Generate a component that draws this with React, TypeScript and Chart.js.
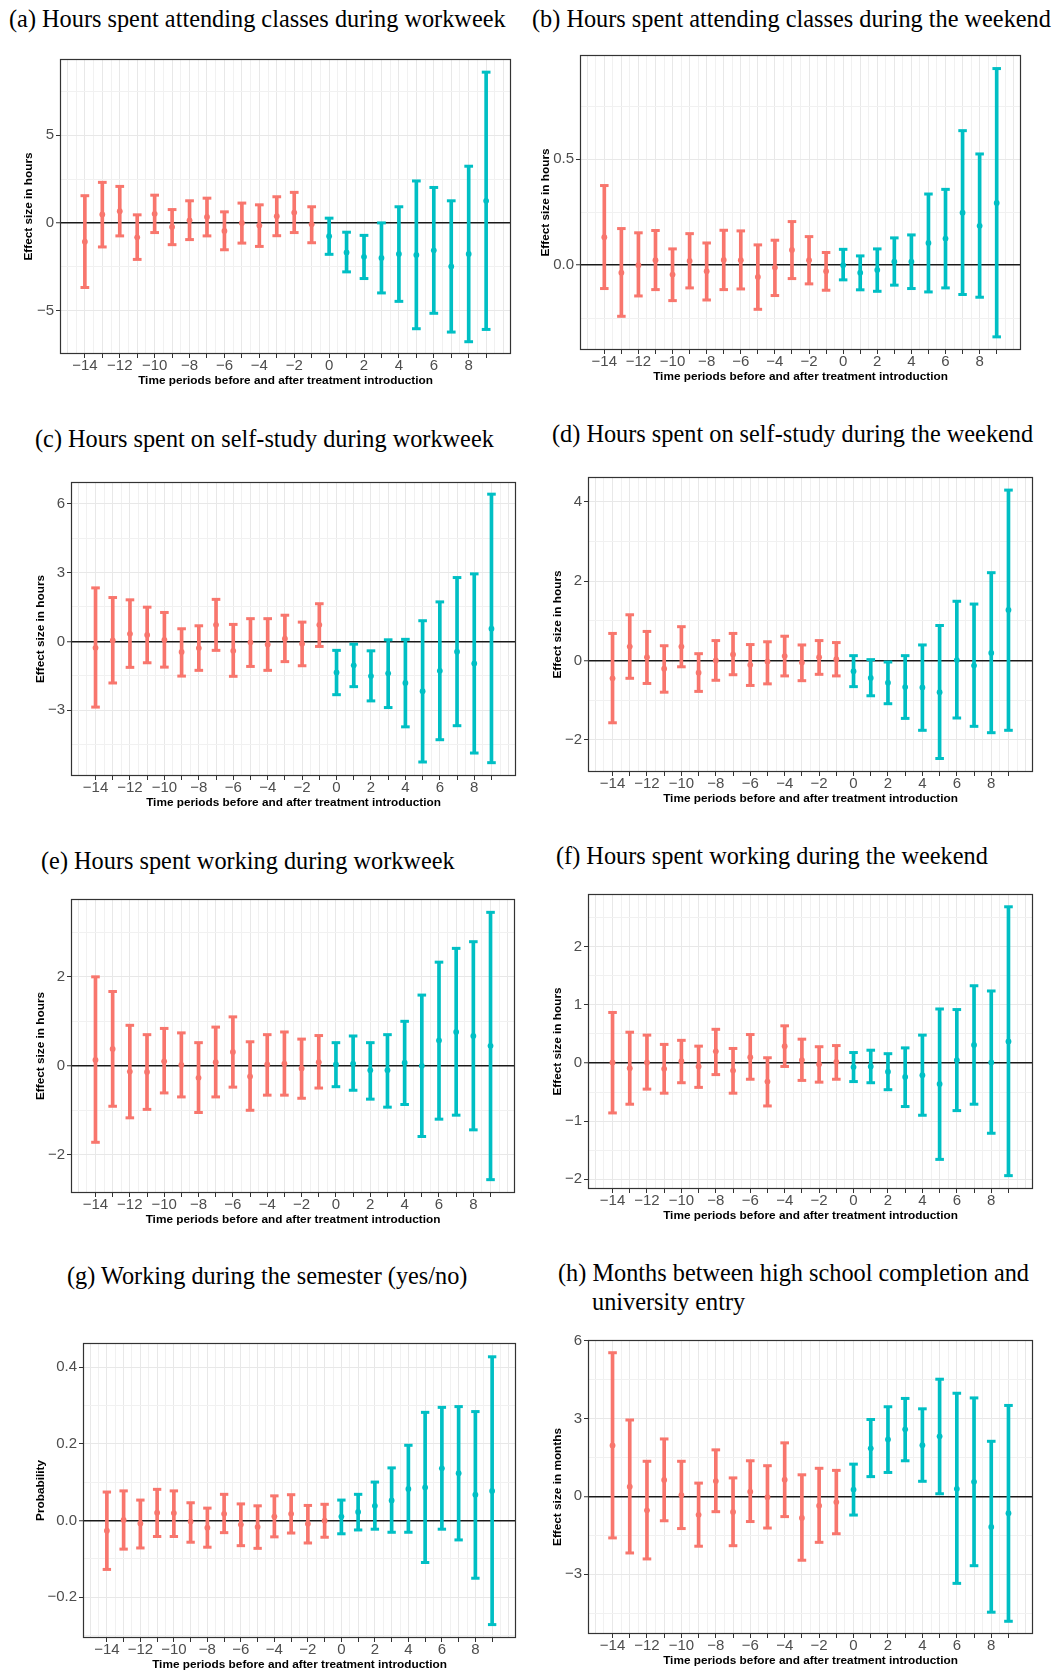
import React, { useEffect, useRef } from "react";
import { Chart, registerables } from "chart.js";

Chart.register(...registerables);

// ---------- data ----------
const periods = [-14, -13, -12, -11, -10, -9, -8, -7, -6, -5, -4, -3, -2, -1, 0, 1, 2, 3, 4, 5, 6, 7, 8, 9];
const xTickLabels = [-14, -12, -10, -8, -6, -4, -2, 0, 2, 4, 6, 8];

// (a) Hours spent attending classes during workweek
const aEst = [-1.07, 0.48, 0.67, -0.82, 0.52, -0.23, 0.15, 0.34, -0.46, 0.0, -0.15, 0.38, 0.59, -0.08, -0.76, -1.68, -1.93, -2.0, -1.77, -1.83, -1.56, -2.48, -1.77, 1.26];
const aLow = [-3.68, -1.37, -0.74, -2.08, -0.55, -1.24, -0.95, -0.74, -1.53, -1.15, -1.34, -0.73, -0.55, -1.13, -1.79, -2.79, -3.17, -3.99, -4.47, -6.03, -5.15, -6.22, -6.77, -6.07];
const aHigh = [1.55, 2.31, 2.08, 0.46, 1.58, 0.76, 1.26, 1.41, 0.63, 1.13, 1.03, 1.49, 1.74, 0.92, 0.27, -0.53, -0.71, 0.0, 0.92, 2.39, 2.02, 1.26, 3.23, 8.59];
const aYTicks = [-5, 0, 5];

// (b) Hours spent attending classes during the weekend
const bEst = [0.132, -0.035, 0.0, 0.024, -0.044, 0.02, -0.028, 0.025, 0.024, -0.055, -0.011, 0.072, 0.024, -0.028, 0.0, -0.035, -0.022, 0.017, 0.017, 0.105, 0.126, 0.248, 0.186, 0.294];
const bLow = [-0.11, -0.241, -0.145, -0.115, -0.167, -0.107, -0.164, -0.115, -0.112, -0.208, -0.143, -0.063, -0.088, -0.118, -0.069, -0.116, -0.123, -0.094, -0.11, -0.126, -0.107, -0.138, -0.151, -0.338];
const bHigh = [0.376, 0.173, 0.153, 0.164, 0.077, 0.149, 0.105, 0.165, 0.162, 0.096, 0.118, 0.206, 0.135, 0.06, 0.075, 0.044, 0.077, 0.129, 0.143, 0.336, 0.358, 0.635, 0.525, 0.928];
const bYTicks = [0.0, 0.5];

// (c) Hours spent on self-study during workweek
const cEst = [-0.28, 0.04, 0.33, 0.28, 0.07, -0.46, -0.29, 0.72, -0.41, -0.04, -0.13, 0.12, -0.1, 0.72, -1.35, -1.04, -1.51, -1.39, -1.81, -2.17, -1.28, -0.45, -0.96, 0.55];
const cLow = [-2.86, -1.81, -1.13, -0.93, -1.12, -1.51, -1.26, -0.39, -1.52, -1.09, -1.26, -0.88, -1.06, -0.22, -2.32, -1.97, -2.59, -2.88, -3.72, -5.25, -4.28, -3.67, -4.86, -5.28];
const cHigh = [2.33, 1.91, 1.81, 1.49, 1.26, 0.55, 0.68, 1.83, 0.74, 0.99, 0.99, 1.14, 0.84, 1.64, -0.39, -0.12, -0.41, 0.07, 0.09, 0.9, 1.72, 2.78, 2.94, 6.41];
const cYTicks = [-3, 0, 3, 6];

// (d) Hours spent on self-study during the weekend
const dEst = [-0.45, 0.35, 0.08, -0.21, 0.35, -0.31, 0.0, 0.15, -0.11, -0.03, 0.11, -0.05, 0.08, 0.03, -0.27, -0.44, -0.56, -0.67, -0.68, -0.8, 0.01, -0.13, 0.19, 1.27];
const dLow = [-1.57, -0.45, -0.58, -0.8, -0.16, -0.78, -0.5, -0.36, -0.63, -0.59, -0.39, -0.51, -0.35, -0.39, -0.66, -0.89, -1.09, -1.46, -1.76, -2.47, -1.45, -1.66, -1.82, -1.76];
const dHigh = [0.68, 1.15, 0.73, 0.37, 0.85, 0.17, 0.5, 0.68, 0.4, 0.47, 0.61, 0.39, 0.5, 0.45, 0.12, 0.02, -0.04, 0.12, 0.39, 0.88, 1.49, 1.42, 2.21, 4.29];
const dYTicks = [-2, 0, 2, 4];

// (e) Hours spent working during workweek
const eEst = [0.13, 0.38, -0.13, -0.14, 0.1, 0.02, -0.27, 0.08, 0.31, -0.24, 0.03, 0.05, -0.06, 0.08, 0.03, 0.05, -0.1, -0.1, 0.07, 0.0, 0.57, 0.76, 0.67, 0.45];
const eLow = [-1.72, -0.91, -1.17, -0.98, -0.61, -0.7, -1.05, -0.7, -0.48, -1.0, -0.66, -0.66, -0.73, -0.5, -0.47, -0.55, -0.75, -0.93, -0.87, -1.59, -1.2, -1.11, -1.44, -2.56];
const eHigh = [2.0, 1.67, 0.91, 0.7, 0.84, 0.74, 0.52, 0.87, 1.1, 0.54, 0.7, 0.76, 0.6, 0.68, 0.52, 0.67, 0.52, 0.7, 1.0, 1.59, 2.33, 2.64, 2.79, 3.45];
const eYTicks = [-2, 0, 2];

// (f) Hours spent working during the weekend
const fEst = [0.01, -0.09, 0.01, -0.1, 0.03, -0.06, 0.2, -0.13, 0.1, -0.32, 0.29, 0.05, -0.02, 0.02, -0.07, -0.06, -0.15, -0.24, -0.21, -0.36, 0.05, 0.31, 0.01, 0.37];
const fLow = [-0.86, -0.71, -0.45, -0.52, -0.34, -0.42, -0.2, -0.52, -0.28, -0.74, -0.06, -0.3, -0.33, -0.28, -0.32, -0.34, -0.46, -0.75, -0.9, -1.66, -0.82, -0.71, -1.21, -1.94];
const fHigh = [0.87, 0.53, 0.48, 0.32, 0.39, 0.29, 0.58, 0.25, 0.49, 0.09, 0.64, 0.41, 0.28, 0.3, 0.18, 0.22, 0.16, 0.26, 0.48, 0.93, 0.92, 1.33, 1.24, 2.69];
const fYTicks = [-2, -1, 0, 1, 2];

// (g) Working during the semester (yes/no)
const gEst = [-0.027, 0.001, -0.008, 0.02, 0.019, -0.003, -0.019, 0.017, -0.011, -0.017, 0.01, 0.017, -0.009, -0.001, 0.01, 0.022, 0.038, 0.052, 0.082, 0.086, 0.136, 0.123, 0.067, 0.077];
const gLow = [-0.128, -0.075, -0.072, -0.042, -0.042, -0.057, -0.07, -0.032, -0.066, -0.073, -0.043, -0.033, -0.059, -0.044, -0.035, -0.025, -0.023, -0.031, -0.031, -0.11, -0.023, -0.051, -0.151, -0.272];
const gHigh = [0.074, 0.077, 0.053, 0.081, 0.077, 0.046, 0.032, 0.068, 0.043, 0.038, 0.064, 0.067, 0.039, 0.042, 0.053, 0.068, 0.1, 0.137, 0.196, 0.282, 0.295, 0.297, 0.284, 0.427];
const gYTicks = [-0.2, 0.0, 0.2, 0.4];

// (h) Months between high school completion and university entry
const hEst = [1.96, 0.37, -0.54, 0.63, 0.05, -0.71, 0.59, -0.6, 0.18, -0.03, 0.64, -0.83, -0.36, -0.22, 0.26, 1.85, 2.19, 2.58, 1.97, 2.31, 0.29, 0.56, -1.18, -0.65];
const hLow = [-1.6, -2.18, -2.41, -0.94, -1.24, -1.92, -0.59, -1.9, -0.97, -1.22, -0.78, -2.46, -1.77, -1.44, -0.72, 0.76, 0.92, 1.37, 0.58, 0.1, -3.35, -2.67, -4.46, -4.81];
const hHigh = [5.53, 2.94, 1.35, 2.21, 1.35, 0.51, 1.79, 0.71, 1.37, 1.18, 2.06, 0.83, 1.08, 1.0, 1.24, 2.96, 3.45, 3.77, 3.37, 4.51, 3.97, 3.79, 2.12, 3.5];
const hYTicks = [-3, 0, 3, 6];

const X_TITLE = "Time periods before and after treatment introduction";

// ---------- styling ----------
const PRE = "#F8766D";
const POST = "#00BFC4";
const SANS = '"Liberation Sans", Arial, Helvetica, sans-serif';
const SERIF = '"Liberation Serif", "Times New Roman", serif';

type PanelCfg = {
  id: string;
  titles: { text: string; x: number; base: number }[];
  box: { l: number; t: number; r: number; b: number };
  yMin: number;
  yMax: number;
  yTicks: number[];
  dec: number;
  yTitle: string;
  yTitleOff: number;
  est: number[];
  low: number[];
  high: number[];
};

const panels: PanelCfg[] = [
  { id: "a", titles: [{ text: "(a) Hours spent attending classes during workweek", x: 9, base: 27 }],
    box: { l: 60, t: 59, r: 511, b: 354 }, yMin: -7.47, yMax: 9.34, yTicks: aYTicks, dec: 0,
    yTitle: "Effect size in hours", yTitleOff: 31, est: aEst, low: aLow, high: aHigh },
  { id: "b", titles: [{ text: "(b) Hours spent attending classes during the weekend", x: 532, base: 27 }],
    box: { l: 580, t: 55, r: 1021, b: 350 }, yMin: -0.4, yMax: 0.992, yTicks: bYTicks, dec: 1,
    yTitle: "Effect size in hours", yTitleOff: 34, est: bEst, low: bLow, high: bHigh },
  { id: "c", titles: [{ text: "(c) Hours spent on self-study during workweek", x: 35, base: 447 }],
    box: { l: 71, t: 482, r: 516, b: 776 }, yMin: -5.86, yMax: 6.94, yTicks: cYTicks, dec: 0,
    yTitle: "Effect size in hours", yTitleOff: 30, est: cEst, low: cLow, high: cHigh },
  { id: "d", titles: [{ text: "(d) Hours spent on self-study during the weekend", x: 552, base: 442 }],
    box: { l: 588, t: 477, r: 1033, b: 772 }, yMin: -2.81, yMax: 4.62, yTicks: dYTicks, dec: 0,
    yTitle: "Effect size in hours", yTitleOff: 30, est: dEst, low: dLow, high: dHigh },
  { id: "e", titles: [{ text: "(e) Hours spent working during workweek", x: 41, base: 869 }],
    box: { l: 71, t: 899, r: 515, b: 1193 }, yMin: -2.86, yMax: 3.75, yTicks: eYTicks, dec: 0,
    yTitle: "Effect size in hours", yTitleOff: 30, est: eEst, low: eLow, high: eHigh },
  { id: "f", titles: [{ text: "(f) Hours spent working during the weekend", x: 556, base: 864 }],
    box: { l: 588, t: 894, r: 1033, b: 1189 }, yMin: -2.17, yMax: 2.91, yTicks: fYTicks, dec: 0,
    yTitle: "Effect size in hours", yTitleOff: 30, est: fEst, low: fLow, high: fHigh },
  { id: "g", titles: [{ text: "(g) Working during the semester (yes/no)", x: 67, base: 1284 }],
    box: { l: 83, t: 1343, r: 516, b: 1638 }, yMin: -0.307, yMax: 0.463, yTicks: gYTicks, dec: 1,
    yTitle: "Probability", yTitleOff: 42, est: gEst, low: gLow, high: gHigh },
  { id: "h", titles: [
      { text: "(h) Months between high school completion and", x: 558, base: 1281 },
      { text: "university entry", x: 592, base: 1310 },
    ],
    box: { l: 588, t: 1340, r: 1033, b: 1634 }, yMin: -5.3, yMax: 6.02, yTicks: hYTicks, dec: 0,
    yTitle: "Effect size in months", yTitleOff: 30, est: hEst, low: hLow, high: hHigh },
];

const X_MIN = -15.425;
const X_MAX = 10.425;
const Y_AXIS_W = 60;
const X_AXIS_H = 34;
const PAD_T = 10;
const PAD_R = 8;
const TICK_FONT = 15;
const TITLE_FONT = 11.8;

const fmt = (v: number, dec: number) => {
  const s = Math.abs(v) < 1e-9 ? (0).toFixed(dec) : v.toFixed(dec);
  return s.replace("-", "\u2212");
};
const near = (a: number, b: number) => Math.abs(a - b) < 1e-9;
const inList = (v: number, list: number[]) => list.some((t) => near(t, v));

const borderPlugin = {
  id: "panelBorder",
  afterDatasetsDraw(chart: any) {
    const { ctx, chartArea } = chart;
    const { left, top, right, bottom } = chartArea;
    ctx.save();
    ctx.strokeStyle = "#333333";
    ctx.lineWidth = 1.2;
    ctx.strokeRect(left + 0.5, top + 0.5, right - left - 1, bottom - top - 1);
    ctx.restore();
  },
};

function ErrorPanel({ cfg }: { cfg: PanelCfg }) {
  const ref = useRef<HTMLCanvasElement | null>(null);
  const { l, t, r, b } = cfg.box;
  const width = r - l + Y_AXIS_W + PAD_R;
  const height = b - t + PAD_T + X_AXIS_H;

  useEffect(() => {
    const canvas = ref.current;
    if (!canvas) return;
    const colorOf = (p: number) => (p < 0 ? PRE : POST);

    const bars = periods.map((p, i) => ({ x: p, y: [cfg.low[i], cfg.high[i]] }));
    const caps = periods.flatMap((p, i) => [
      { x: p, y: cfg.low[i] },
      { x: p, y: cfg.high[i] },
    ]);
    const capColors = periods.flatMap((p) => [colorOf(p), colorOf(p)]);
    const pts = periods.map((p, i) => ({ x: p, y: cfg.est[i] }));
    const ptColors = periods.map(colorOf);

    // grid positions: integer (major) and half-integer (minor) lines on x
    const xGrid: number[] = [];
    for (let k = Math.ceil(X_MIN * 2); k <= Math.floor(X_MAX * 2); k++) xGrid.push(k / 2);
    // y grid: labelled breaks plus midpoints
    const step = cfg.yTicks[1] - cfg.yTicks[0];
    const yGridAll: number[] = [];
    const first = cfg.yTicks[0] - 4 * step;
    for (let k = 0; k <= (cfg.yTicks.length + 8) * 2; k++) {
      const v = Math.round((first + (k * step) / 2) * 1e6) / 1e6;
      if (v >= cfg.yMin - 1e-9 && v <= cfg.yMax + 1e-9) yGridAll.push(v);
    }

    const chart = new Chart(canvas, {
      type: "scatter",
      data: {
        datasets: [
          {
            type: "scatter",
            data: pts,
            pointRadius: 2.9,
            pointHoverRadius: 2.9,
            pointBackgroundColor: ptColors,
            pointBorderColor: ptColors,
            pointBorderWidth: 0,
          } as any,
          {
            type: "scatter",
            data: caps,
            pointStyle: "line",
            pointRadius: (ctx: any) => {
              const s = ctx.chart.scales.x;
              return Math.abs(s.getPixelForValue(0.25) - s.getPixelForValue(0));
            },
            pointBorderColor: capColors,
            pointBackgroundColor: capColors,
            pointBorderWidth: 3,
          } as any,
          {
            type: "bar",
            data: bars,
            backgroundColor: ptColors,
            borderWidth: 0,
            barThickness: 3,
            grouped: false,
          } as any,
        ],
      },
      options: {
        animation: false,
        responsive: false,
        maintainAspectRatio: false,
        devicePixelRatio: 1,
        events: [],
        layout: { padding: { left: 0, top: PAD_T, right: PAD_R, bottom: 0 } },
        plugins: { legend: { display: false }, tooltip: { enabled: false }, title: { display: false } },
        scales: {
          x: {
            type: "linear",
            min: X_MIN,
            max: X_MAX,
            bounds: "data",
            offset: false,
            border: { display: false },
            grid: {
              offset: false,
              drawOnChartArea: true,
              drawTicks: true,
              tickLength: 4,
              tickWidth: 1,
              lineWidth: 1,
              color: (ctx: any) => (Number.isInteger(ctx.tick?.value) ? "#E8E8E8" : "#F1F1F1"),
              tickColor: (ctx: any) =>
                ctx.tick && inList(ctx.tick.value, periods) ? "#333333" : "rgba(0,0,0,0)",
            },
            afterBuildTicks: (scale: any) => {
              scale.ticks = xGrid.map((v) => ({ value: v }));
            },
            afterFit: (scale: any) => {
              scale.height = X_AXIS_H;
            },
            ticks: {
              autoSkip: false,
              maxRotation: 0,
              minRotation: 0,
              padding: 0,
              color: "#4D4D4D",
              font: { family: SANS, size: TICK_FONT, lineHeight: 1 },
              callback: (v: any) => (inList(Number(v), xTickLabels) ? fmt(Number(v), 0) : ""),
            },
            title: {
              display: true,
              text: X_TITLE,
              color: "#000000",
              font: { family: SANS, size: TITLE_FONT, weight: "bold", lineHeight: 1.2 },
              padding: { top: 0, bottom: 0.5 },
            },
          },
          y: {
            type: "linear",
            min: cfg.yMin,
            max: cfg.yMax,
            bounds: "data",
            beginAtZero: false,
            border: { display: false },
            grid: {
              drawTicks: true,
              tickLength: 4,
              tickWidth: 1,
              lineWidth: (ctx: any) => (ctx.tick && near(ctx.tick.value, 0) ? 1.5 : 1),
              color: (ctx: any) => {
                const v = ctx.tick?.value;
                if (v === undefined) return "#E8E8E8";
                if (near(v, 0)) return "#1A1A1A";
                return inList(v, cfg.yTicks) ? "#E8E8E8" : "#F1F1F1";
              },
              tickColor: (ctx: any) =>
                ctx.tick && inList(ctx.tick.value, cfg.yTicks) ? "#333333" : "rgba(0,0,0,0)",
            },
            afterBuildTicks: (scale: any) => {
              scale.ticks = yGridAll.map((v) => ({ value: v }));
            },
            afterFit: (scale: any) => {
              scale.width = Y_AXIS_W;
            },
            ticks: {
              autoSkip: false,
              padding: 2,
              color: "#4D4D4D",
              font: { family: SANS, size: TICK_FONT, lineHeight: 1 },
              callback: (v: any) => (inList(Number(v), cfg.yTicks) ? fmt(Number(v), cfg.dec) : ""),
            },
            title: {
              display: true,
              text: cfg.yTitle,
              color: "#000000",
              font: { family: SANS, size: TITLE_FONT, weight: "bold", lineHeight: 1.2 },
              padding: { top: Y_AXIS_W - cfg.yTitleOff - 7, bottom: 0 },
            },
          },
        },
      } as any,
      plugins: [borderPlugin],
    });
    return () => chart.destroy();
  }, [cfg]);

  return (
    <canvas
      ref={ref}
      width={width}
      height={height}
      style={{ position: "absolute", left: l - Y_AXIS_W, top: t - PAD_T, width, height }}
    />
  );
}

export default function App() {
  return (
    <div
      style={{
        position: "absolute",
        left: 0,
        top: 0,
        width: 1056,
        height: 1671,
        background: "#ffffff",
        overflow: "hidden",
      }}
    >
      {panels.map((p) => (
        <React.Fragment key={p.id}>
          {p.titles.map((tl, k) => (
            <div
              key={k}
              style={{
                position: "absolute",
                left: tl.x,
                top: tl.base - 20,
                font: `24.3px ${SERIF}`,
                lineHeight: "24px",
                whiteSpace: "nowrap",
                color: "#000",
              }}
            >
              {tl.text}
            </div>
          ))}
          <ErrorPanel cfg={p} />
        </React.Fragment>
      ))}
    </div>
  );
}
